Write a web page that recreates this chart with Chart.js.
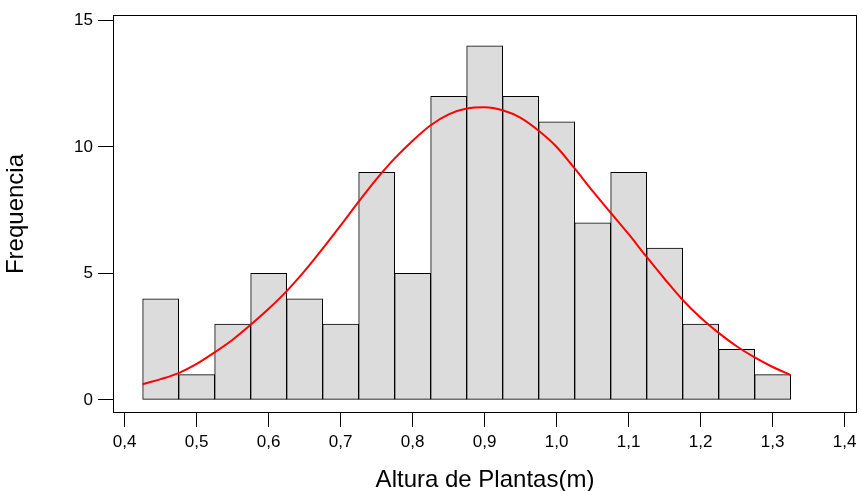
<!DOCTYPE html>
<html lang="pt-BR">
<head>
<meta charset="utf-8">
<title>Histograma - Altura de Plantas</title>
<script src="https://cdn.jsdelivr.net/npm/chart.js@4.4.1/dist/chart.umd.min.js"></script>
<style>
    body { margin: 0; background: #fff; }
    #wrap { width: 859px; height: 491px; }
</style>
</head>
<body>
<div id="wrap"><canvas id="grafico" width="859" height="491"></canvas></div>
<script>
// Centros das classes do histograma (largura 0,05 m)
const centrosClasses = [0.45, 0.50, 0.55, 0.60, 0.65, 0.70, 0.75, 0.80, 0.85,
                        0.90, 0.95, 1.00, 1.05, 1.10, 1.15, 1.20, 1.25, 1.30];
// Frequência de cada classe
const frequencias = [4, 1, 3, 5, 4, 3, 9, 5, 12, 14, 12, 11, 7, 9, 6, 3, 2, 1];

// Curva normal ajustada
const curvaX = [0.425, 0.45, 0.475, 0.50, 0.525, 0.55, 0.575, 0.60, 0.625, 0.65,
                0.675, 0.70, 0.725, 0.75, 0.775, 0.80, 0.825, 0.85, 0.875, 0.90,
                0.925, 0.95, 0.975, 1.00, 1.025, 1.05, 1.075, 1.10, 1.125, 1.15,
                1.175, 1.20, 1.225, 1.25, 1.275, 1.30, 1.325];
const curvaY = [0.62, 0.82, 1.06, 1.42, 1.88, 2.38, 2.97, 3.60, 4.30, 5.10,
                5.98, 6.90, 7.84, 8.74, 9.55, 10.25, 10.86, 11.29, 11.52, 11.57,
                11.45, 11.15, 10.64, 10.00, 9.15, 8.25, 7.40, 6.55, 5.65, 4.78,
                3.95, 3.25, 2.65, 2.12, 1.68, 1.30, 0.98];

// Marcas dos eixos
const ticksX = [0.4, 0.5, 0.6, 0.7, 0.8, 0.9, 1.0, 1.1, 1.2, 1.3, 1.4];
const rotulosX = ['0,4', '0,5', '0,6', '0,7', '0,8', '0,9', '1,0', '1,1', '1,2', '1,3', '1,4'];
const ticksY = [0, 5, 10, 15];

const FONTE = "'Liberation Sans', Arial, sans-serif";

// Moldura em volta da área do gráfico
const moldura = {
    id: 'moldura',
    afterDraw(chart) {
        const { ctx, chartArea: a } = chart;
        ctx.save();
        ctx.strokeStyle = '#000';
        ctx.lineWidth = 1;
        ctx.strokeRect(Math.round(a.left) + 0.5, Math.round(a.top) + 0.5,
                       Math.round(a.right - a.left) - 1, Math.round(a.bottom - a.top) - 1);
        ctx.restore();
    }
};

function criarGrafico() {
    const ctx = document.getElementById('grafico').getContext('2d');
    new Chart(ctx, {
        type: 'bar',
        data: {
            datasets: [
                {
                    type: 'line',
                    data: curvaX.map((x, i) => ({ x: x, y: curvaY[i] })),
                    borderColor: '#ff0000',
                    borderWidth: 2,
                    pointRadius: 0,
                    cubicInterpolationMode: 'monotone',
                    fill: false,
                    order: 0
                },
                {
                    type: 'bar',
                    data: centrosClasses.map((x, i) => ({ x: x, y: frequencias[i] })),
                    backgroundColor: '#dcdcdc',
                    borderColor: '#000',
                    borderWidth: 1,
                    borderSkipped: false,
                    barPercentage: 1,
                    categoryPercentage: 1,
                    order: 1
                }
            ]
        },
        options: {
            responsive: false,
            devicePixelRatio: 1,
            animation: false,
            layout: { autoPadding: false, padding: { top: 15, right: 2, left: 0, bottom: 0 } },
            plugins: {
                legend: { display: false },
                tooltip: { enabled: false }
            },
            scales: {
                x: {
                    type: 'linear',
                    min: 0.3838,
                    max: 1.4171,
                    offset: false,
                    afterBuildTicks: s => { s.ticks = ticksX.map(v => ({ value: v })); },
                    afterFit: s => { s.height = 78; s.paddingLeft = 0; s.paddingRight = 0; },
                    grid: { offset: false, drawOnChartArea: false, drawTicks: true, tickLength: 14, color: '#000' },
                    border: { display: false },
                    ticks: {
                        autoSkip: false,
                        maxRotation: 0,
                        padding: 5,
                        color: '#000',
                        font: { family: FONTE, size: 17 },
                        callback: (v, i) => rotulosX[i]
                    },
                    title: {
                        display: true,
                        text: 'Altura de Plantas(m)',
                        color: '#000',
                        font: { family: FONTE, size: 24, lineHeight: 0.9 },
                        padding: { top: 0, bottom: 0 }
                    }
                },
                y: {
                    min: -0.52,
                    max: 15.22,
                    beginAtZero: false,
                    afterBuildTicks: s => { s.ticks = ticksY.map(v => ({ value: v })); },
                    afterFit: s => { s.width = 113; s.paddingTop = 0; s.paddingBottom = 0; },
                    grid: { drawOnChartArea: false, drawTicks: true, tickLength: 15, color: '#000' },
                    border: { display: false },
                    ticks: {
                        padding: 5,
                        color: '#000',
                        font: { family: FONTE, size: 17 }
                    },
                    title: {
                        display: true,
                        text: 'Frequencia',
                        color: '#000',
                        font: { family: FONTE, size: 24 },
                        padding: { top: 2, bottom: 0 }
                    }
                }
            }
        },
        plugins: [moldura]
    });
}

document.addEventListener('DOMContentLoaded', criarGrafico);
</script>
</body>
</html>
